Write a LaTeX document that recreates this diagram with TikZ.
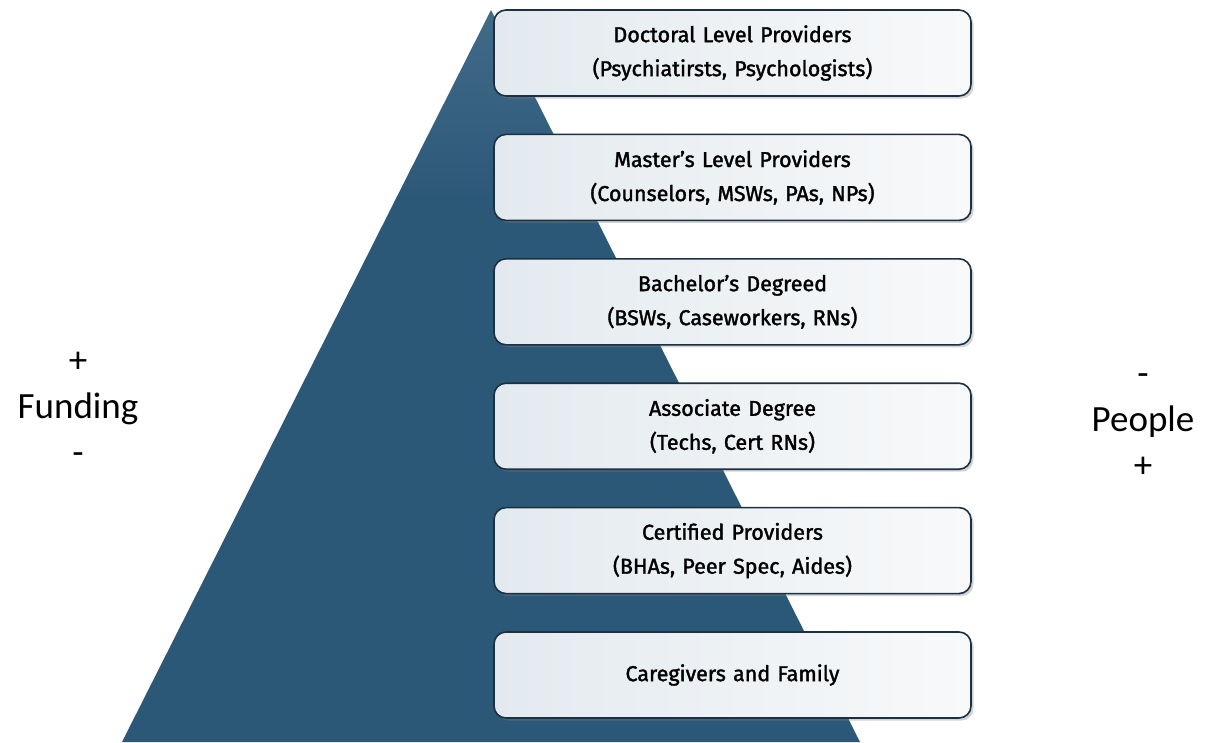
\documentclass[tikz,border=0pt]{standalone}
\usepackage{fontspec}
\setmainfont{Carlito}
\newfontfamily\tierfont[FakeBold=1.6]{Fira Sans}
\usepackage{tikz}
\usetikzlibrary{matrix,shadows,positioning}

\definecolor{pyrdark}{HTML}{2C5878}
\definecolor{pyrlight}{HTML}{6C8EA6}
\definecolor{boxline}{HTML}{1C3042}
\definecolor{boxleft}{HTML}{E3EAEF}
\definecolor{boxright}{HTML}{F8F9FA}
\pgfdeclareverticalshading{pyrshade}{100bp}{color(0bp)=(pyrdark); color(62bp)=(pyrdark); color(100bp)=(pyrlight)}

\begin{document}
\begin{tikzpicture}[x=1pt,y=-1pt,
  tier/.style={draw=boxline, line width=1.6pt, rounded corners=12pt, left color=boxleft, right color=boxright,
    minimum width=477pt, minimum height=86pt, text width=460pt, align=center, inner sep=0pt,
    font=\tierfont\fontsize{21.5}{34}\selectfont, text=black,
    drop shadow={shadow xshift=2.5pt, shadow yshift=-2.5pt, opacity=0.35}},
  side/.style={align=center, inner sep=0pt, font=\fontsize{37}{46}\selectfont, text=black}]
\useasboundingbox (0,0) rectangle (1206,742);

% pyramid
\shade[shading=pyrshade] (491,10) -- (860,742) -- (122,742) -- cycle;

% tiers
\matrix (tiers) at (732.5,9) [anchor=north, inner sep=0pt, matrix of nodes, row sep=36.8pt, nodes={tier}]{
{Doctoral Level Providers\\(Psychiatirsts, Psychologists)} \\
{Master’s Level Providers\\(Counselors, MSWs, PAs, NPs)} \\
{Bachelor’s Degreed\\(BSWs, Caseworkers, RNs)} \\
{Associate Degree\\(Techs, Cert RNs)} \\
{Certified Providers\\(BHAs, Peer Spec, Aides)} \\
Caregivers and Family \\
};

% side labels
\node[side] (funding) at (78,408) {+\\Funding\\-};
\node[side] (people) at (1143,426) {-\\People\\+};
\end{tikzpicture}
\end{document}
